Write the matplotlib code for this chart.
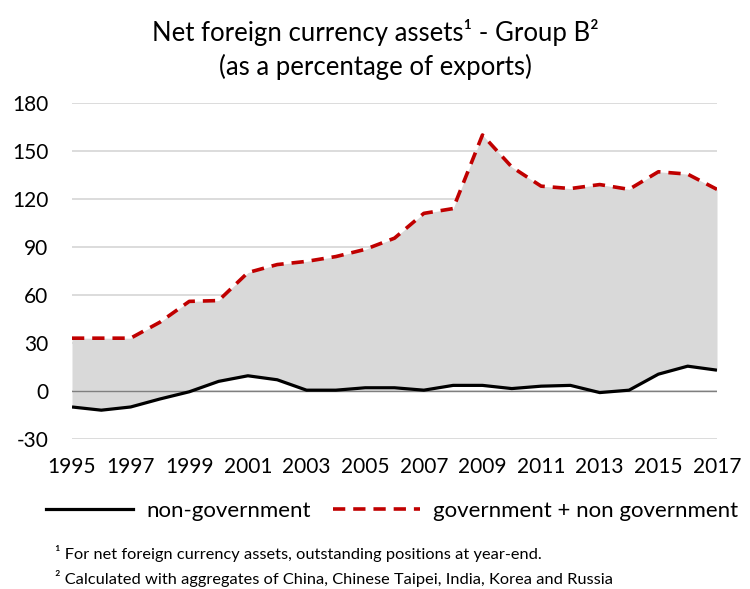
import matplotlib
matplotlib.use("Agg")
import matplotlib.pyplot as plt
from matplotlib.lines import Line2D

plt.rcParams['font.family'] = ['Lato', 'DejaVu Sans']
plt.rcParams['axes.unicode_minus'] = False

years = list(range(1995, 2018))
non_government = [-10, -12, -10, -5, -0.5, 6, 9.5, 7, 0.5, 0.5, 2, 2, 0.5, 3.5,
                  3.5, 1.5, 3, 3.5, -1, 0.5, 10.5, 15.5, 13]
gov_plus_nongov = [33, 33, 33, 43, 56, 56.5, 74, 79, 81, 84, 88.5, 95.5, 111, 114,
                   160, 140, 128, 126.5, 129, 126, 137, 135.5, 126]
x_ticks = list(range(1995, 2018, 2))
y_ticks = [-30, 0, 30, 60, 90, 120, 150, 180]

title = "Net foreign currency assets\u00b9 - Group B\u00b2\n(as a percentage of exports)"
foot1 = "\u00b9 For net foreign currency assets, outstanding positions at year-end."
foot2 = "\u00b2 Calculated with aggregates of China, Chinese Taipei, India, Korea and Russia"

fig = plt.figure(figsize=(7.5, 5.89), dpi=100)
ax = fig.add_axes([0.096, 0.2547, 0.86, 0.5705])

ax.fill_between(years, non_government, gov_plus_nongov, color='#d9d9d9', lw=0, zorder=1)
ax.axhline(0, color='#7f7f7f', lw=1.0, zorder=2)
ax.plot(years, non_government, color='black', lw=2.3, zorder=3, solid_capstyle='butt')
ax.plot(years, gov_plus_nongov, color='#c00000', lw=2.6, ls=(0, (3.4, 2.2)), zorder=4)

ax.set_xlim(1995, 2017)
ax.set_ylim(-30, 180)
ax.set_xticks(x_ticks)
ax.set_yticks(y_ticks)
ax.grid(axis='y', color='#d9d9d9', lw=1.3, zorder=0)
ax.set_axisbelow(True)
for s in ax.spines.values():
    s.set_visible(False)
ax.tick_params(length=0, labelsize=15, colors='black')
ax.tick_params(axis='x', pad=13)
ax.tick_params(axis='y', pad=17)

fig.text(0.5, 0.968, title, ha='center', va='top', fontsize=18.5, linespacing=1.4)

handles = [Line2D([], [], color='black', lw=2.3),
           Line2D([], [], color='#c00000', lw=2.6, ls=(0, (3.4, 2.2)))]
fig.legend(handles, ['non-government', 'government + non government'],
           loc='center', bbox_to_anchor=(0.523, 0.133), ncol=2, frameon=False,
           fontsize=16, handlelength=3.9, handletextpad=0.6, columnspacing=1.0,
           borderpad=0, borderaxespad=0)

fig.text(0.073, 0.061, foot1, fontsize=11.8, va='center')
fig.text(0.073, 0.018, foot2, fontsize=11.8, va='center')

fig.savefig('out.png', dpi=100)
